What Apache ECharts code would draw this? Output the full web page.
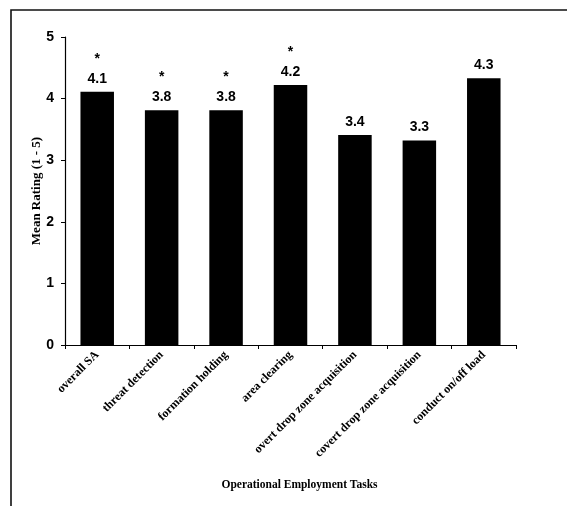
<!DOCTYPE html>
<html><head><meta charset="utf-8">
<script src="https://cdn.jsdelivr.net/npm/echarts@6/dist/echarts.min.js"></script>
<style>html,body{margin:0;padding:0;background:#fff}#c{width:567px;height:506px}</style>
</head><body><div id="c"></div>
<script>
var categories = ['overall SA','threat detection','formation holding','area clearing','overt drop zone acquisition','covert drop zone acquisition','conduct on/off load'];
var meanRatings = [4.11, 3.81, 3.81, 4.22, 3.41, 3.32, 4.33];
var significance = ['*','*','*','*','','',''];
var yTicks = [0,1,2,3,4,5];

var chart = echarts.init(document.getElementById('c'));
chart.setOption({
  animation:false,
  backgroundColor:'#fff',
  graphic:[{type:'rect',shape:{x:11,y:10,width:600,height:560},style:{fill:'none',stroke:'#111',lineWidth:1.6}}],
  grid:{left:65,right:51,top:37,bottom:161},
  xAxis:{
    type:'category',data:categories,
    name:'Operational Employment Tasks',nameLocation:'middle',nameGap:134,nameMoveOverlap:false,
    nameTextStyle:{fontFamily:'Liberation Serif',fontWeight:'bold',fontSize:11.5,color:'#000',padding:[0,0,0,18]},
    axisLine:{lineStyle:{color:'#000',width:1.2}},
    axisTick:{show:true,length:4,lineStyle:{color:'#000'}},
    axisLabel:{rotate:45,interval:0,margin:8,fontFamily:'Liberation Serif',fontWeight:'bold',fontSize:12,color:'#000'}
  },
  yAxis:{
    type:'value',min:yTicks[0],max:yTicks[yTicks.length-1],interval:1,
    name:'Mean Rating (1 - 5)',nameLocation:'middle',nameGap:22,nameMoveOverlap:false,
    nameTextStyle:{fontFamily:'Liberation Serif',fontWeight:'bold',fontSize:13,color:'#000'},
    axisLine:{show:true,lineStyle:{color:'#000',width:1.2}},
    axisTick:{show:true,length:4,lineStyle:{color:'#000'}},
    splitLine:{show:false},
    axisLabel:{margin:11,fontFamily:'Liberation Sans',fontWeight:'bold',fontSize:14,color:'#000'}
  },
  series:[{
    type:'bar',data:meanRatings,barWidth:'52%',
    itemStyle:{color:'#000'},
    label:{show:true,position:'top',distance:5,
      formatter:function(p){var s=significance[p.dataIndex];return (s?'{s|'+s+'}\n':'')+'{v|'+p.value.toFixed(1)+'}';},
      rich:{s:{fontFamily:'Liberation Sans',fontWeight:'bold',fontSize:14,lineHeight:24,color:'#000'},
            v:{fontFamily:'Liberation Sans Narrow, Liberation Sans',fontWeight:'bold',fontSize:14,lineHeight:16,color:'#000'}}
    }
  }]
});
</script></body></html>
